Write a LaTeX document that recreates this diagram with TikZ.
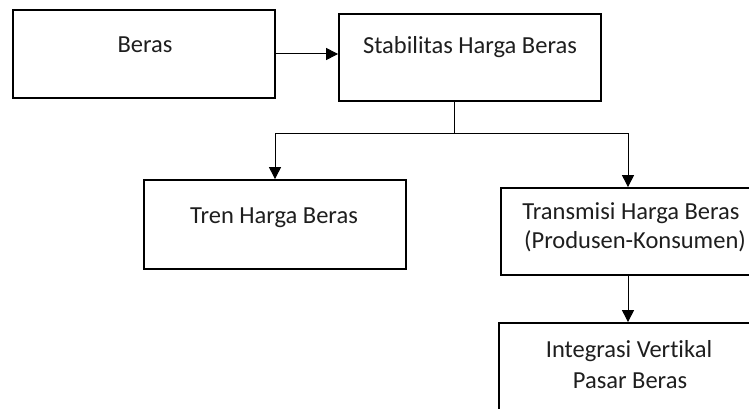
\documentclass[tikz,border=0pt]{standalone}
\usepackage{fontspec}
\setmainfont{Carlito}[Ligatures=NoCommon]
\usetikzlibrary{arrows.meta}
\definecolor{txtc}{RGB}{30,30,30}
\begin{document}
\begin{tikzpicture}[x=1pt,y=-1pt,
  box/.style={draw=black,line width=1.8pt,inner sep=0pt,fill=white},
  lbl/.style={anchor=base,inner sep=0pt,text=txtc,font=\fontsize{24.5}{29}\selectfont},
  conn/.style={line width=1pt,-{Triangle[length=12pt,width=12pt]}},
  plainline/.style={line width=1pt}]
\useasboundingbox (0,0) rectangle (749,409);
\clip (0,0) rectangle (749,409);
\fill[white] (0,0) rectangle (749,409);
% boxes
\node[box,minimum width=262pt,minimum height=88pt] (beras) at (144,54) {};
\node[box,minimum width=262pt,minimum height=87pt] (stab) at (470,57.5) {};
\node[box,minimum width=262pt,minimum height=89pt] (tren) at (275,224.5) {};
\node[box,minimum width=254pt,minimum height=87pt] (trans) at (628,231.5) {};
\node[box,minimum width=258pt,minimum height=92pt] (integ) at (628,369) {};
% labels
\node[lbl] (tberas) at (145,53) {Beras};
\node[lbl] (tstab) at (470,54) {Stabilitas Harga Beras};
\node[lbl] (ttren) at (274,223) {Tren Harga Beras};
\node[lbl] (ttrans1) at (631,219) {Transmisi Harga Beras};
\node[lbl] (ttrans2) at (635,248) {(Produsen-Konsumen)};
\node[lbl] (tinteg1) at (629,357) {Integrasi Vertikal};
\node[lbl] (tinteg2) at (630,388) {Pasar Beras};
% connectors
\draw[conn] (beras.east) -- (beras.east -| stab.west);
\coordinate (split) at (454,133);
\draw[plainline] (split |- stab.south) -- (split);
\draw[conn] (split) -| (tren.north);
\draw[conn] (split) -| (trans.north);
\draw[conn] (trans.south) -- (integ.north);
\end{tikzpicture}
\end{document}
